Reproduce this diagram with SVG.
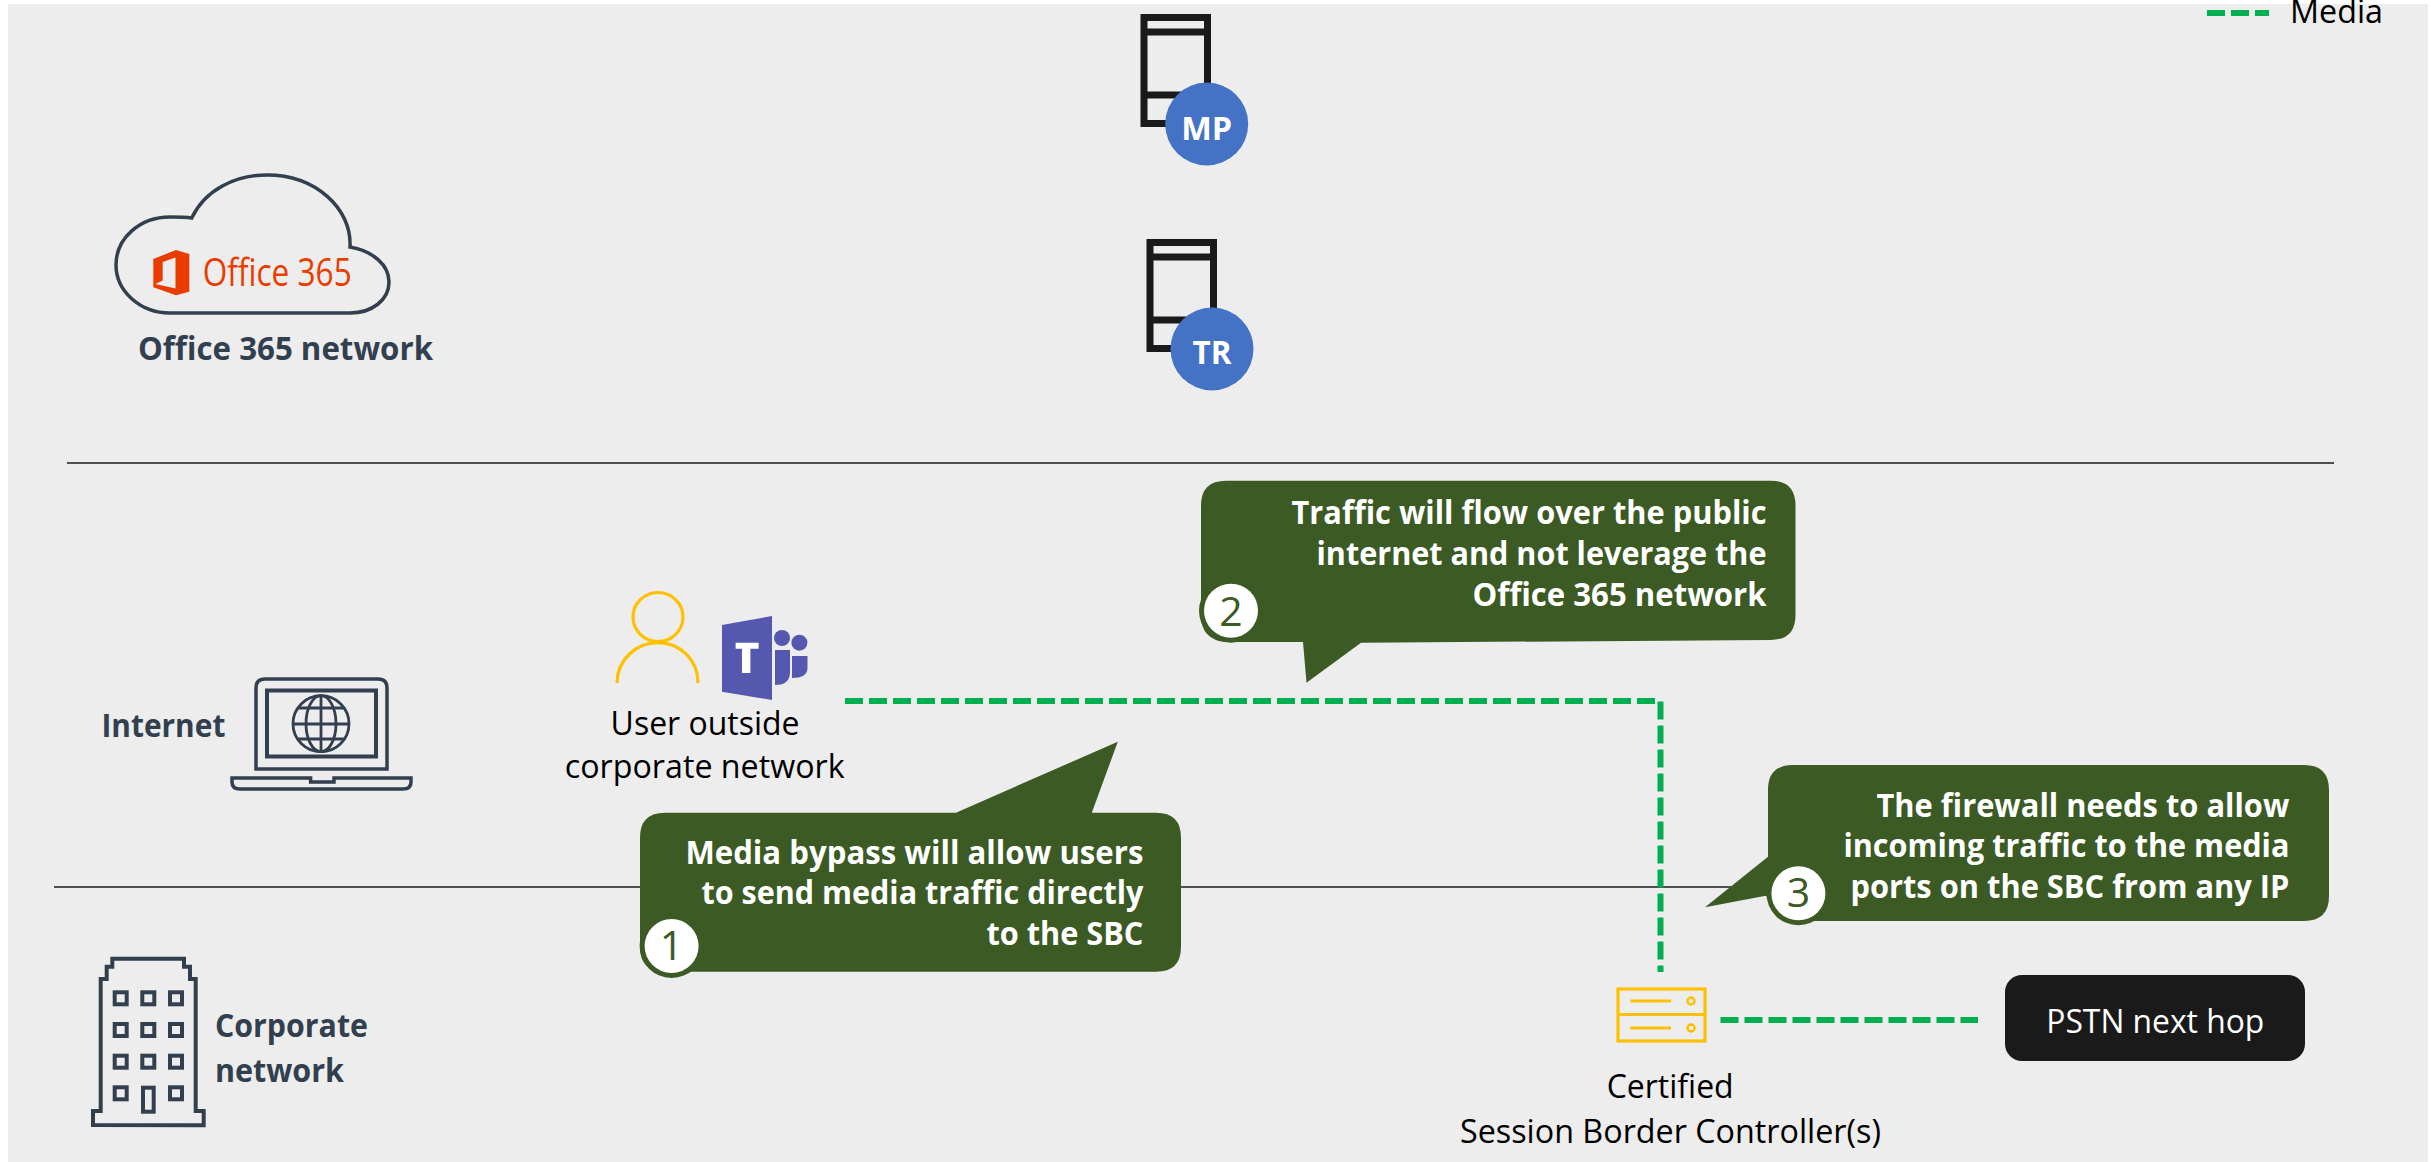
<svg xmlns="http://www.w3.org/2000/svg" width="2431" height="1162" viewBox="0 0 2431 1162">
<style>
text{font-family:"Open Sans","Noto Sans","Liberation Sans",sans-serif}
.lbl{font-size:33px;fill:#000}
.sec{font-size:33px;font-weight:700;fill:#323f4f}
.call{font-size:33px;font-weight:700;fill:#fff;text-anchor:end}
.num{font-size:41px;fill:#3b5a24;text-anchor:middle}
.bub{fill:#3b5a24}
.nav{fill:none;stroke:#323f4f;stroke-width:4}
.srv{fill:none;stroke:#1a1a1a;stroke-width:7}
.ylw{fill:none;stroke:#ffc000;stroke-width:3.2}
.dash{fill:none;stroke:#00b050;stroke-width:6;stroke-dasharray:18 6}
.div{stroke:#1a1a1a;stroke-width:1.6}
.badge{fill:#4472c4}
.btxt{font-size:33px;font-weight:700;fill:#fff;text-anchor:middle}
</style>
<rect width="2431" height="1162" fill="#fff"/>
<rect x="8" y="4" width="2420" height="1158" fill="#ededed"/>
<g id="dividers">
<line class="div" x1="67" y1="463" x2="2334" y2="463"/>
<line class="div" x1="54" y1="887" x2="2300" y2="887"/>
</g>
<g id="connectors">
<path class="dash" d="M845 701H1660.500V972"/>
<path class="dash" d="M1720.500 1020H1978"/>
<path class="dash" d="M2207 13H2269"/>
</g>
<text class="lbl" style="font-size:32px" x="2290" y="23" textLength="93" lengthAdjust="spacingAndGlyphs">Media</text>
<g id="office365">
<path d="M191.700 218C205 190 235 175 267 175C315 175 352 208 350 247C373 251 389 265 389 282C389 300 372 313 350 313H170C140 313 116 291 116 265C116 238 140 217 170 217C178 217 185 217 191.700 218Z" fill="none" stroke="#323f4f" stroke-width="3.500"/>
<path fill-rule="evenodd" d="M153.300 259L176 250L189.300 254V291.700L176 295.300L153.300 287.300ZM162.700 262V280.500L155.500 284L175.500 288.500V257.500Z" fill="#eb3c00"/>
<text x="202.700" y="286" font-size="38" fill="#eb3c00" textLength="149" lengthAdjust="spacingAndGlyphs">Office 365</text>
<text class="sec" x="138" y="360" textLength="295" lengthAdjust="spacingAndGlyphs">Office 365 network</text>
</g>
<g id="mp">
<rect class="srv" x="1144" y="17.500" width="63.500" height="106"/>
<path class="srv" d="M1144 32H1207M1144 95H1207"/>
<circle class="badge" cx="1206.700" cy="124" r="41.500"/>
<text class="btxt" x="1206.700" y="140" textLength="51" lengthAdjust="spacingAndGlyphs">MP</text>
</g>
<g id="tr">
<rect class="srv" x="1150" y="242.500" width="63.500" height="106"/>
<path class="srv" d="M1150 257H1213M1150 320H1213"/>
<circle class="badge" cx="1212" cy="349" r="41.500"/>
<text class="btxt" x="1212" y="364" textLength="39" lengthAdjust="spacingAndGlyphs">TR</text>
</g>
<g id="internet">
<text class="sec" x="101.400" y="736.700" textLength="124" lengthAdjust="spacingAndGlyphs">Internet</text>
<path class="nav" style="stroke-width:3.500" d="M256 769V688Q256 679 265 679H378Q387 679 387 688V769Z"/>
<rect class="nav" x="267" y="690.500" width="109" height="66"/>
<g class="nav" style="stroke-width:2.800">
<ellipse cx="321" cy="723.700" rx="28" ry="28"/>
<ellipse cx="321" cy="723.700" rx="15" ry="28"/>
<path d="M321 696V751M298 708H344M298 739H344M293 724H349"/>
</g>
<path class="nav" style="stroke-width:3.500" d="M232 778H310.600V782H334V778H411V782Q411 789 403 789H240Q232 789 232 782Z"/>
</g>
<g id="user">
<ellipse class="ylw" cx="658" cy="617" rx="25" ry="24.500"/>
<path class="ylw" d="M617 683C617 660 636 642.700 658 642.700C680 642.700 698 660 698 683"/>
<path d="M722 625L772 616V700L722 691.700Z" fill="#5558af"/>
<path d="M735.600 642.700H758.600V648.700H750.400V673H742V648.700H735.600Z" fill="#fff"/>
<circle cx="782" cy="638" r="8" fill="#5558af"/>
<circle cx="799.400" cy="642.700" r="8" fill="#5558af"/>
<path d="M775 650H790V672Q790 685 775 685Z" fill="#5558af"/>
<path d="M792 656H807.500V668Q807.500 678 792 678Z" fill="#5558af"/>
<text class="lbl" x="610.600" y="735" textLength="189" lengthAdjust="spacingAndGlyphs">User outside</text>
<text class="lbl" x="564.700" y="778" textLength="280" lengthAdjust="spacingAndGlyphs">corporate network</text>
</g>
<g id="corporate">
<path class="nav" d="M93 1125V1111H100.700V979H106.700V966.700H112.300V958.700H184V966.700H190V979H195.700V1111H203.700V1125.300Z"/>
<g class="nav">
<rect x="114.700" y="992.300" width="12" height="12"/><rect x="142.300" y="992.300" width="12" height="12"/><rect x="170" y="992.300" width="12" height="12"/>
<rect x="114.700" y="1024" width="12" height="12"/><rect x="142.300" y="1024" width="12" height="12"/><rect x="170" y="1024" width="12" height="12"/>
<rect x="114.700" y="1055.700" width="12" height="12"/><rect x="142.300" y="1055.700" width="12" height="12"/><rect x="170" y="1055.700" width="12" height="12"/>
<rect x="114.700" y="1087.300" width="12" height="12"/><rect x="143" y="1087.700" width="10.700" height="24"/><rect x="170" y="1087.300" width="12" height="12"/>
</g>
<text class="sec" x="215" y="1036.700" textLength="153" lengthAdjust="spacingAndGlyphs">Corporate</text>
<text class="sec" x="215" y="1081.700" textLength="129" lengthAdjust="spacingAndGlyphs">network</text>
</g>
<g id="callout1">
<path class="bub" d="M665 812.700H956L1117.800 741.700L1091.800 812.700H1156Q1181 812.700 1181 837.700V946.700Q1181 971.700 1156 971.700H665Q640 971.700 640 946.700V837.700Q640 812.700 665 812.700Z"/>
<circle class="bub" cx="671.600" cy="946" r="32"/>
<circle cx="671.600" cy="946" r="27" fill="#fff"/>
<text class="num" x="671.600" y="960">1</text>
<text class="call" x="1143.400" y="864" textLength="458" lengthAdjust="spacingAndGlyphs">Media bypass will allow users</text>
<text class="call" x="1143.400" y="904.300" textLength="442" lengthAdjust="spacingAndGlyphs">to send media traffic directly</text>
<text class="call" x="1143.400" y="945" textLength="157" lengthAdjust="spacingAndGlyphs">to the SBC</text>
</g>
<g id="callout2">
<path class="bub" d="M1226 480.700H1770.500Q1795.500 480.700 1795.500 505.700V615Q1795.500 640 1770.500 640L1361 642.700L1306.500 682.700L1303 642H1226Q1201 640 1201 615V505.700Q1201 480.700 1226 480.700Z"/>
<circle class="bub" cx="1231" cy="610.700" r="32"/>
<circle cx="1231" cy="610.700" r="27" fill="#fff"/>
<text class="num" x="1231" y="625.700">2</text>
<text class="call" x="1766.500" y="524.300" textLength="475" lengthAdjust="spacingAndGlyphs">Traffic will flow over the public</text>
<text class="call" x="1766.500" y="565" textLength="450" lengthAdjust="spacingAndGlyphs">internet and not leverage the</text>
<text class="call" x="1766.500" y="605.700" textLength="294" lengthAdjust="spacingAndGlyphs">Office 365 network</text>
</g>
<g id="callout3">
<path class="bub" d="M1793 765H2304Q2329 765 2329 790V896Q2329 921 2304 921H1793L1765.700 895.700L1705 907.300L1768 856.700V790Q1768 765 1793 765Z"/>
<circle class="bub" cx="1798.400" cy="893.300" r="32"/>
<circle cx="1798.400" cy="893.300" r="27" fill="#fff"/>
<text class="num" x="1798.400" y="906.700">3</text>
<text class="call" x="2289.400" y="817.300" textLength="413" lengthAdjust="spacingAndGlyphs">The firewall needs to allow</text>
<text class="call" x="2289.400" y="857.300" textLength="446" lengthAdjust="spacingAndGlyphs">incoming traffic to the media</text>
<text class="call" x="2289.400" y="897.700" textLength="439" lengthAdjust="spacingAndGlyphs">ports on the SBC from any IP</text>
</g>
<g id="sbc">
<rect class="ylw" x="1618" y="989" width="87" height="52"/>
<path class="ylw" d="M1618 1014.500H1705M1630.400 1001H1671M1630.400 1028H1671"/>
<circle class="ylw" style="stroke-width:2.500" cx="1691" cy="1001" r="3.500"/>
<circle class="ylw" style="stroke-width:2.500" cx="1691" cy="1028" r="3.500"/>
<text class="lbl" x="1606.700" y="1098.300" textLength="127" lengthAdjust="spacingAndGlyphs">Certified</text>
<text class="lbl" x="1460" y="1143.300" textLength="421" lengthAdjust="spacingAndGlyphs">Session Border Controller(s)</text>
</g>
<g id="pstn">
<rect x="2005" y="975" width="300" height="86" rx="17" fill="#1a1a1a"/>
<text class="lbl" style="fill:#fff" x="2046.300" y="1032.700" textLength="218" lengthAdjust="spacingAndGlyphs">PSTN next hop</text>
</g>
</svg>
